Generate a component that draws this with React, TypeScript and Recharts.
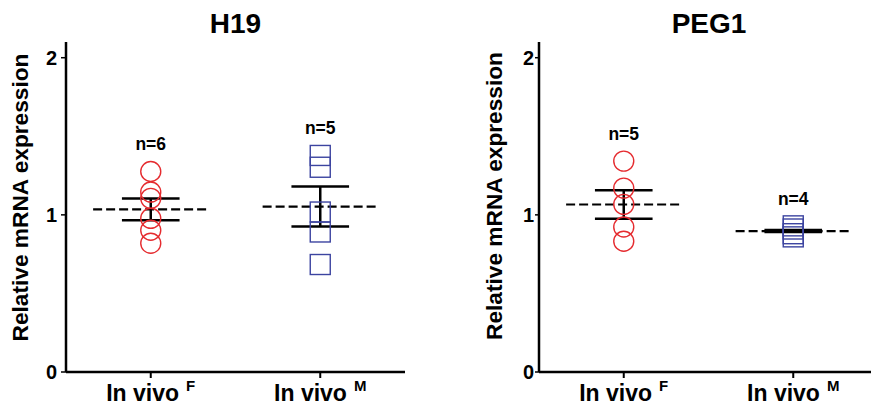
import React from 'react';
import { ComposedChart, Scatter, XAxis, YAxis, ReferenceLine } from 'recharts';

// ---- data ----
const groups = ['F', 'M'];
const groupPos = [1, 3];

const h19F = [1.276, 1.145, 1.105, 0.978, 0.902, 0.819];
const h19M = [1.378, 1.303, 1.018, 0.891, 0.684];
const h19Mean = [1.035, 1.053];
const h19Sem = [0.069, 0.127];
const h19N = ['n=6', 'n=5'];

const peg1F = [1.342, 1.17, 1.067, 0.923, 0.832];
const peg1M = [0.93, 0.91, 0.88, 0.86];
const peg1Mean = [1.066, 0.897];
const peg1Sem = [0.09, 0.006];
const peg1N = ['n=5', 'n=4'];

const yTicks = [0, 1, 2];
const xTicks = [1, 3];
const xTickText = 'In vivo';

const RED = '#e52b2f';
const BLUE = '#3c44a0';
const FONT = '"Liberation Sans", Arial, Helvetica, sans-serif';

const MEAN_HALF = 0.68;
const CAP_HALF = 0.34;

const CircleShape = (props: any) => {
  const { cx, cy } = props;
  return <circle cx={cx} cy={cy} r={10} fill="none" stroke={RED} strokeWidth={1.4} />;
};
const SquareShape = (props: any) => {
  const { cx, cy } = props;
  return <rect x={cx - 10} y={cy - 10} width={20} height={20} fill="none" stroke={BLUE} strokeWidth={1.4} />;
};
const NLabelShape = (props: any) => {
  const { cx, cy, payload } = props;
  return (
    <text x={cx} y={cy - 21} textAnchor="middle" fontFamily={FONT} fontWeight="bold" fontSize={17.5} fill="#000">
      {payload.label}
    </text>
  );
};

const XTick = (props: any) => {
  const { x, y, payload } = props;
  const idx = groupPos.indexOf(payload.value);
  return (
    <text x={x} y={y + 21} textAnchor="middle" fontFamily={FONT} fontWeight="bold" fontSize={23} fill="#000">
      {xTickText}
      <tspan dx={7} dy={-10} fontSize={15}>{groups[idx]}</tspan>
    </text>
  );
};

type PanelProps = {
  values: number[][];
  means: number[];
  sems: number[];
  nLabels: string[];
  tickMargin: number;
  tickSize: number;
};

const Panel = ({ values, means, sems, nLabels, tickMargin, tickSize }: PanelProps) => {
  const fData = values[0].map((v) => ({ x: groupPos[0], y: v }));
  const mData = values[1].map((v) => ({ x: groupPos[1], y: v }));
  const nData = values.map((vals, i) => ({ x: groupPos[i], y: Math.max(...vals), label: nLabels[i] }));
  return (
    <ComposedChart width={435} height={408} margin={{ top: 42, right: 30, bottom: 0, left: 0 }}>
      <XAxis
        type="number"
        dataKey="x"
        domain={[0, 4]}
        ticks={xTicks}
        allowDataOverflow
        height={36}
        tick={<XTick />}
        tickSize={6}
        axisLine={{ stroke: '#000', strokeWidth: 2.5 }}
        tickLine={{ stroke: '#000', strokeWidth: 2 }}
      />
      <YAxis
        type="number"
        dataKey="y"
        domain={[0, 2.1]}
        ticks={yTicks}
        allowDataOverflow
        width={66}
        tickSize={tickSize}
        tickMargin={tickMargin}
        tick={{ fill: '#000', fontSize: 20, fontWeight: 'bold', fontFamily: FONT }}
        axisLine={{ stroke: '#000', strokeWidth: 2.5 }}
        tickLine={{ stroke: '#000', strokeWidth: 1.5 }}
      />
      <Scatter data={fData} shape={<CircleShape />} isAnimationActive={false} />
      <Scatter data={mData} shape={<SquareShape />} isAnimationActive={false} />
      <Scatter data={nData} shape={<NLabelShape />} isAnimationActive={false} />
      {means.map((m, i) => (
        <ReferenceLine
          key={'v' + i}
          segment={[{ x: groupPos[i], y: m - sems[i] }, { x: groupPos[i], y: m + sems[i] }]}
          stroke="#000"
          strokeWidth={2.5}
          ifOverflow="visible"
        />
      ))}
      {means.map((m, i) => (
        <ReferenceLine
          key={'ct' + i}
          segment={[{ x: groupPos[i] - CAP_HALF, y: m + sems[i] }, { x: groupPos[i] + CAP_HALF, y: m + sems[i] }]}
          stroke="#000"
          strokeWidth={2.5}
          ifOverflow="visible"
        />
      ))}
      {means.map((m, i) => (
        <ReferenceLine
          key={'cb' + i}
          segment={[{ x: groupPos[i] - CAP_HALF, y: m - sems[i] }, { x: groupPos[i] + CAP_HALF, y: m - sems[i] }]}
          stroke="#000"
          strokeWidth={2.5}
          ifOverflow="visible"
        />
      ))}
      {means.map((m, i) => (
        <ReferenceLine
          key={'m' + i}
          segment={[{ x: groupPos[i] - MEAN_HALF, y: m }, { x: groupPos[i] + MEAN_HALF, y: m }]}
          stroke="#000"
          strokeWidth={2.2}
          strokeDasharray="9 4"
          ifOverflow="visible"
        />
      ))}
    </ComposedChart>
  );
};

const titles = ['H19', 'PEG1'];
const yLabel = 'Relative mRNA expression';

export default function App() {
  return (
    <div style={{ position: 'absolute', left: 0, top: 0, width: 871, height: 408, overflow: 'hidden', background: '#fff' }}>
      <div style={{ position: 'absolute', left: 0, top: 0 }}>
        <Panel values={[h19F, h19M]} means={h19Mean} sems={h19Sem} nLabels={h19N} tickMargin={4} tickSize={5} />
      </div>
      <div style={{ position: 'absolute', left: 473, top: 0 }}>
        <Panel values={[peg1F, peg1M]} means={peg1Mean} sems={peg1Sem} nLabels={peg1N} tickMargin={1} tickSize={4} />
      </div>
      <svg width={871} height={408} style={{ position: 'absolute', left: 0, top: 0, pointerEvents: 'none' }}>
        <text x={235.5} y={33} textAnchor="middle" fontFamily={FONT} fontWeight="bold" fontSize={28} fill="#000">{titles[0]}</text>
        <text x={709} y={33} textAnchor="middle" fontFamily={FONT} fontWeight="bold" fontSize={28} fill="#000">{titles[1]}</text>
        <text transform="rotate(-90)" x={-197.5} y={28} textAnchor="middle" fontFamily={FONT} fontWeight="bold" fontSize={22.7} fill="#000">{yLabel}</text>
        <text transform="rotate(-90)" x={-196} y={501.5} textAnchor="middle" fontFamily={FONT} fontWeight="bold" fontSize={22.7} fill="#000">{yLabel}</text>
      </svg>
    </div>
  );
}
